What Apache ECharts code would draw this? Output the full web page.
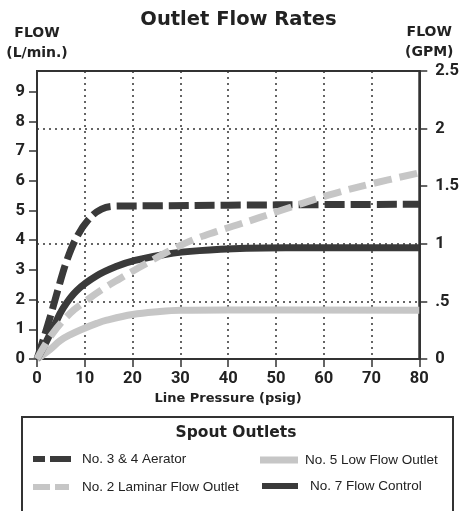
<!DOCTYPE html>
<html><head><meta charset="utf-8">
<script src="https://cdn.jsdelivr.net/npm/echarts@6/dist/echarts.min.js"></script>
<style>html,body{margin:0;padding:0;background:#fff}#c{width:462px;height:511px}</style>
</head><body><div id="c"></div>
<script>
// ---- tick labels ----
const pressureTicks = [0, 10, 20, 30, 40, 50, 60, 70, 80];
const lpmTicks = [0, 1, 2, 3, 4, 5, 6, 7, 8, 9];
const gpmTickValues = [0, 0.5, 1, 1.5, 2, 2.5];
const gpmTickLabels = ['0', '.5', '1', '1.5', '2', '2.5'];
const gpmGridValues = [0.5, 1, 2];

// ---- series names ----
const seriesNames = ['No. 3 & 4 Aerator', 'No. 2 Laminar Flow Outlet', 'No. 5 Low Flow Outlet', 'No. 7 Flow Control'];

// ---- data (pressure psig -> flow L/min) ----
const aeratorX = [0, 1.5, 3, 4.5, 6.2, 8.3, 10.7, 13.5, 16.7, 25, 40, 60, 80];
const aeratorY = [0, 0.75, 1.55, 2.4, 3.3, 4.1, 4.68, 5.05, 5.15, 5.16, 5.18, 5.2, 5.21];

const laminarX = [0, 3, 7, 10, 14, 17.5, 21, 27, 32, 37.5, 42, 51, 61, 70, 80];
const laminarY = [0, 0.8, 1.55, 1.93, 2.38, 2.72, 3.05, 3.58, 3.97, 4.29, 4.52, 5.0, 5.52, 5.9, 6.27];

const lowFlowX = [0, 2.8, 4.85, 7, 9.7, 12.5, 14.6, 20, 25.7, 30, 40, 80];
const lowFlowY = [0, 0.33, 0.62, 0.82, 1.02, 1.2, 1.31, 1.5, 1.6, 1.64, 1.65, 1.64];

const flowCtrlX = [0, 1.4, 3.5, 5.5, 8.3, 12.5, 16.7, 20.5, 27, 34, 44, 52, 80];
const flowCtrlY = [0, 0.41, 1.09, 1.72, 2.3, 2.8, 3.12, 3.32, 3.53, 3.65, 3.73, 3.75, 3.75];

const pairs = (xs, ys) => xs.map((x, i) => [x, ys[i]]);

const DARK = '#3a3a3a', LIGHT = '#c6c6c6', INK = '#222';
const boldFont = 'DejaVu Sans';
const numFont = 'Roboto';
const legendFont = "'Liberation Sans', Arial, sans-serif";

const chart = echarts.init(document.getElementById('c'), null, {renderer: 'canvas'});

const legendCommon = {
  orient: 'horizontal', selectedMode: false, padding: 0,
  itemStyle: {borderWidth: 0},
  textStyle: {fontFamily: legendFont, fontSize: 13.5, color: INK, lineHeight: 16}
};

const option = {
  animation: false,
  backgroundColor: '#fff',
  title: [
    {text: 'Outlet Flow Rates', left: 238.5, textAlign: 'center', top: 10, padding: 0,
     textStyle: {fontFamily: boldFont, fontWeight: 'bold', fontSize: 19.5, color: INK}},
    {text: 'Spout Outlets', left: 236, textAlign: 'center', top: 425, padding: 0,
     textStyle: {fontFamily: boldFont, fontWeight: 'bold', fontSize: 15.5, color: INK}}
  ],
  graphic: [
    {type: 'rect', shape: {x: 22, y: 417, width: 431, height: 110},
     style: {fill: 'none', stroke: '#333', lineWidth: 2}, z: 0}
  ],
  legend: [
    Object.assign({}, legendCommon, {left: 33, top: 451, itemWidth: 38, itemHeight: 6,
      data: [{name: seriesNames[0], icon: 'path://M0,0H12V6H0ZM17,0H38V6H17Z', textStyle: {padding: [0, 0, 0, 6]}}]}),
    Object.assign({}, legendCommon, {left: 33, top: 479, itemWidth: 36, itemHeight: 6,
      data: [{name: seriesNames[1], icon: 'path://M0,0H17V6H0ZM22,0H36V6H22Z', textStyle: {padding: [0, 0, 0, 8]}}]}),
    Object.assign({}, legendCommon, {left: 260, top: 452, itemWidth: 38, itemHeight: 7,
      data: [{name: seriesNames[2], icon: 'rect', textStyle: {padding: [0, 0, 0, 2]}}]}),
    Object.assign({}, legendCommon, {left: 262, top: 478, itemWidth: 36, itemHeight: 6,
      data: [{name: seriesNames[3], icon: 'rect', textStyle: {padding: [0, 0, 0, 7]}}]})
  ],
  grid: {left: 37, right: 41, top: 71, bottom: 152, show: true, borderColor: '#333', borderWidth: 2, containLabel: false},
  xAxis: {
    type: 'value', min: 0, max: 80, interval: 10,
    name: 'Line Pressure (psig)', nameLocation: 'middle', nameGap: 29,
    nameTextStyle: {fontFamily: boldFont, fontWeight: 'bold', fontSize: 13, color: INK},
    axisLine: {show: true, lineStyle: {color: '#333', width: 2}},
    axisTick: {show: true, length: 8, customValues: pressureTicks, lineStyle: {color: '#333', width: 1.5}},
    axisLabel: {customValues: pressureTicks, margin: 11, fontFamily: numFont, fontWeight: 'bold', fontSize: 16.5, color: INK},
    splitLine: {show: true, lineStyle: {color: '#333', width: 1.5, type: [2, 4]}}
  },
  yAxis: [
    {
      type: 'value', min: 0, max: 9.7, position: 'left',
      name: 'FLOW\n(L/min.)', nameLocation: 'end', nameGap: 8,
      nameTextStyle: {fontFamily: boldFont, fontWeight: 'bold', fontSize: 14, lineHeight: 20, align: 'center', color: INK},
      axisLine: {show: true, lineStyle: {color: '#333', width: 2}},
      axisTick: {show: true, length: 8, customValues: lpmTicks, lineStyle: {color: '#333', width: 1.5}},
      axisLabel: {customValues: lpmTicks, margin: 12, fontFamily: numFont, fontWeight: 'bold', fontSize: 16.5, color: INK},
      splitLine: {show: false}
    },
    {
      type: 'value', min: 0, max: 2.5, position: 'right',
      name: 'FLOW\n(GPM)', nameLocation: 'end', nameGap: 8,
      nameTextStyle: {fontFamily: boldFont, fontWeight: 'bold', fontSize: 14, lineHeight: 20, align: 'center', color: INK, padding: [0, 0, 0, 20]},
      axisLine: {show: true, lineStyle: {color: '#333', width: 2}},
      axisTick: {show: true, length: 8, customValues: gpmTickValues, lineStyle: {color: '#333', width: 1.5}},
      axisLabel: {customValues: gpmTickValues, margin: 16, fontFamily: numFont, fontWeight: 'bold', fontSize: 16.5, color: INK,
        formatter: (v) => gpmTickLabels[gpmTickValues.indexOf(v)]},
      splitLine: {show: false}
    },
    {
      type: 'value', min: 0, max: 2.5, position: 'right',
      axisLine: {show: false}, axisLabel: {show: false},
      axisTick: {show: false, customValues: gpmGridValues},
      splitLine: {show: true, lineStyle: {color: '#333', width: 1.5, type: [2, 4]}}
    }
  ],
  series: [
    {type: 'line', name: seriesNames[2], data: pairs(lowFlowX, lowFlowY), yAxisIndex: 0, symbol: 'none',
     smooth: 0.4, color: LIGHT, lineStyle: {color: LIGHT, width: 7, cap: 'butt', join: 'round'}, z: 3},
    {type: 'line', name: seriesNames[3], data: pairs(flowCtrlX, flowCtrlY), yAxisIndex: 0, symbol: 'none',
     smooth: 0.4, color: DARK, lineStyle: {color: DARK, width: 7, cap: 'butt', join: 'round'}, z: 3},
    {type: 'line', name: seriesNames[0], data: pairs(aeratorX, aeratorY), yAxisIndex: 0, symbol: 'none',
     smooth: 0.4, color: DARK, lineStyle: {color: DARK, width: 7, type: [20, 6], cap: 'butt', join: 'round'}, z: 3},
    {type: 'line', name: seriesNames[1], data: pairs(laminarX, laminarY), yAxisIndex: 0, symbol: 'none',
     smooth: 0.4, color: LIGHT, lineStyle: {color: LIGHT, width: 7, type: [18, 8], cap: 'butt', join: 'round'}, z: 3}
  ]
};
chart.setOption(option);
</script>
</body></html>
